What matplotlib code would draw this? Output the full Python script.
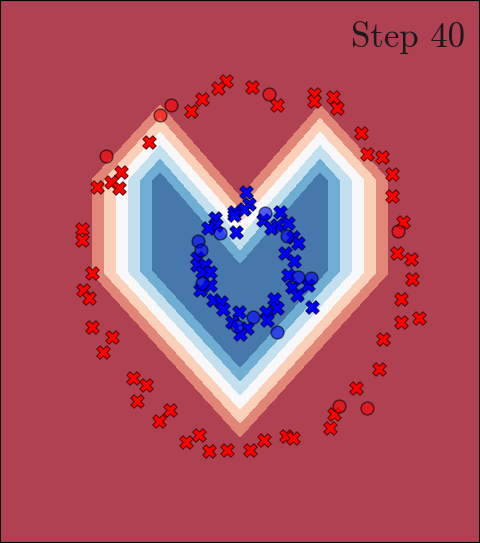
import numpy as np
import matplotlib
matplotlib.use("Agg")
import matplotlib.pyplot as plt

red_train_x = [-0.14, -0.22, 0.12, 0.37, -0.38, -0.49, -0.91, -1.19, -1.29, -1.21, -1.43,
               0.74, 0.74, 0.93, 0.97, 1.21, 1.27, 1.42, 1.52, 1.52, 1.63, 1.57, 1.71,
               -1.58, -1.58, -1.48, -1.57, -1.51, -1.48, -1.28, -1.37, -1.07, -0.94, -1.03,
               -0.70, -0.81, -0.41, -0.54, -0.31, -0.13, 0.10, 0.24, 0.46, 0.53, 0.90, 0.94,
               1.16, 1.39, 1.43, 1.61, 1.79, 1.61, 1.72]
red_train_y = [1.91, 1.84, 1.85, 1.67, 1.73, 1.61, 1.30, 1.00, 0.90, 0.84, 0.85,
               1.78, 1.71, 1.75, 1.64, 1.39, 1.18, 1.15, 0.98, 0.76, 0.50, 0.19, 0.13,
               0.43, 0.32, -0.01, -0.18, -0.26, -0.55, -0.65, -0.80, -1.06, -1.13, -1.29,
               -1.38, -1.49, -1.63, -1.70, -1.79, -1.78, -1.78, -1.68, -1.64, -1.66, -1.56, -1.42,
               -1.16, -0.97, -0.67, -0.50, -0.46, -0.27, -0.07]

red_test_x = [-0.69, -0.80, -1.34, 0.29, 1.58, 0.99, 1.27]
red_test_y = [1.67, 1.57, 1.16, 1.78, 0.41, -1.34, -1.36]

blue_train_x = [0.06, 0.09, 0.04, -0.06, -0.06, -0.25, -0.24, -0.32, -0.04, 0.23, 0.40,
                0.37, 0.31, 0.48, 0.53, 0.58, 0.45, 0.54, -0.43, -0.43, -0.35, -0.38, -0.30,
                -0.30, -0.40, -0.27, -0.19, -0.17, -0.01, -0.08, 0.07, 0.00, 0.26, 0.27,
                0.34, 0.37, 0.72, 0.48, 0.52, 0.57, 0.68]
blue_train_y = [0.80, 0.68, 0.63, 0.60, 0.57, 0.54, 0.47, 0.44, 0.40, 0.52, 0.60,
                0.47, 0.44, 0.49, 0.35, 0.29, 0.19, 0.11, 0.14, 0.07, 0.07, 0.00, 0.00,
                -0.13, -0.18, -0.28, -0.30, -0.37, -0.40, -0.50, -0.56, -0.62, -0.40, -0.48,
                -0.27, -0.36, -0.35, -0.03, -0.15, -0.23, -0.13]

blue_test_x = [-0.20, 0.25, 0.47, -0.42, -0.39, -0.38, -0.03, 0.13, 0.37, 0.58, 0.71]
blue_test_y = [0.39, 0.59, 0.36, 0.31, 0.22, -0.11, -0.54, -0.45, -0.60, -0.05, -0.06]

# heart-shaped decision surface (piecewise linear, one lobe mirrored)
edge_x = 1.48          # vertical sides
side_top, side_bot = 0.92, -0.01
peak_x, peak_y = 0.80, 1.67
notch_y = 0.75
tip_y = -1.65
step_side, step_top, step_bot = 0.12, 0.136, 0.14
n_bands = 7

step_label = "Step 40"


def lobe(u, y):
    top_slope = (peak_y - side_top) / (edge_x - peak_x)
    notch_slope = (peak_y - notch_y) / peak_x
    bot_slope = (side_bot - tip_y) / edge_x
    f1 = 1 + (edge_x - u) / step_side
    f2 = 1 + (y - (tip_y + bot_slope * u)) / step_bot
    f3 = 1 + ((side_top + top_slope * (edge_x - u)) - y) / step_top
    f4 = 1 + ((notch_y + notch_slope * u) - y) / step_top
    f5 = 1 + (y - (tip_y - bot_slope * u)) / step_bot
    return np.minimum.reduce([f1, f2, f3, f4, f5])


xs = np.linspace(-2.4, 2.4, 700)
ys = np.linspace(-2.71, 2.72, 800)
xx, yy = np.meshgrid(xs, ys)
zz = np.maximum(lobe(-xx, yy), lobe(xx, yy))
zz = np.clip(zz, 0.01, n_bands - 0.01)

# RdBu at the band midpoints, blended over white like alpha=0.8 (avoids seams)
mids = (np.arange(n_bands) + 0.5) / n_bands
band_colors = 0.8 * plt.cm.RdBu(mids)[:, :3] + 0.2

fig = plt.figure(figsize=(4.8, 5.43), dpi=100)
ax = fig.add_axes([0, 0, 1, 1])
ax.contourf(xx, yy, zz, levels=np.arange(n_bands + 1), colors=band_colors,
            antialiased=False)

ax.scatter(red_train_x, red_train_y, marker="X", s=95, c="#ff0000",
           edgecolors="#400000", linewidths=0.6, zorder=3)
ax.scatter(blue_train_x, blue_train_y, marker="X", s=95, c="#0000ff",
           edgecolors="#000040", linewidths=0.6, zorder=3)
ax.scatter(red_test_x, red_test_y, marker="o", s=85, c="#ff0000", alpha=0.6,
           edgecolors="k", linewidths=1.0, zorder=4)
ax.scatter(blue_test_x, blue_test_y, marker="o", s=85, c="#0000ff", alpha=0.6,
           edgecolors="k", linewidths=1.0, zorder=4)

ax.text(0.968, 0.962, step_label, transform=ax.transAxes, ha="right", va="top",
        fontsize=25, fontfamily="cmr10", color="#1a1a1a")

ax.set_xlim(-2.4, 2.4)
ax.set_ylim(-2.71, 2.72)
ax.set_xticks([])
ax.set_yticks([])
for sp in ax.spines.values():
    sp.set_linewidth(1.5)
    sp.set_color("k")

fig.savefig("out.png", dpi=100)
